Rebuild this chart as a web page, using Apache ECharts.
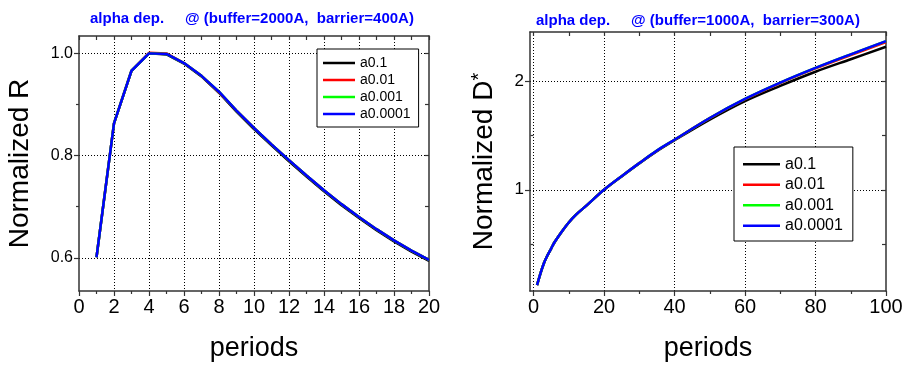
<!DOCTYPE html>
<html>
<head>
<meta charset="utf-8">
<script src="https://cdn.jsdelivr.net/npm/echarts@6/dist/echarts.min.js"></script>
<style>
  html, body { margin: 0; padding: 0; background: #fff; }
  #chart { width: 906px; height: 367px; }
</style>
</head>
<body>
<div id="chart"></div>
<script>
// Series names and colours shared by both panels
const seriesNames = ['a0.1', 'a0.01', 'a0.001', 'a0.0001'];
const seriesColors = ['#000000', '#ff0000', '#00ff00', '#0000ff'];

// Left panel: normalized R versus number of periods
const periodsR = [1, 2, 3, 4, 5, 6, 7, 8, 9, 10, 11, 12, 13, 14, 15, 16, 17, 18, 19, 20];
const rA01    = [0.601, 0.863, 0.966, 1.000, 0.998, 0.980, 0.955, 0.923, 0.886, 0.852, 0.820, 0.789, 0.759, 0.730, 0.703, 0.678, 0.654, 0.632, 0.612, 0.594];
const rA001   = [0.601, 0.863, 0.966, 1.001, 1.000, 0.981, 0.956, 0.924, 0.888, 0.854, 0.822, 0.791, 0.761, 0.732, 0.705, 0.680, 0.656, 0.634, 0.614, 0.596];
const rA0001  = [0.601, 0.863, 0.966, 1.000, 0.999, 0.981, 0.956, 0.925, 0.888, 0.854, 0.822, 0.791, 0.761, 0.732, 0.705, 0.680, 0.656, 0.634, 0.614, 0.596];
const rA00001 = [0.601, 0.863, 0.966, 1.000, 0.999, 0.981, 0.956, 0.925, 0.888, 0.854, 0.822, 0.791, 0.761, 0.732, 0.705, 0.680, 0.656, 0.634, 0.614, 0.596];

// Right panel: normalized D* versus number of periods
const periodsD = [1, 2, 3, 4, 5, 6, 8, 10, 12, 15, 20, 25, 30, 35, 40, 50, 60, 70, 80, 90, 100];
const dA01    = [0.124, 0.235, 0.330, 0.400, 0.460, 0.520, 0.615, 0.700, 0.770, 0.855, 1.000, 1.123, 1.242, 1.355, 1.455, 1.645, 1.815, 1.955, 2.085, 2.200, 2.314];
const dA001   = [0.124, 0.235, 0.330, 0.400, 0.460, 0.520, 0.615, 0.700, 0.770, 0.855, 1.000, 1.125, 1.245, 1.358, 1.460, 1.658, 1.832, 1.981, 2.115, 2.238, 2.357];
const dA0001  = [0.124, 0.235, 0.330, 0.400, 0.460, 0.520, 0.615, 0.700, 0.770, 0.855, 1.000, 1.125, 1.245, 1.360, 1.460, 1.660, 1.835, 1.985, 2.120, 2.245, 2.366];
const dA00001 = [0.124, 0.235, 0.330, 0.400, 0.460, 0.520, 0.615, 0.700, 0.770, 0.855, 1.000, 1.125, 1.245, 1.360, 1.460, 1.660, 1.835, 1.985, 2.120, 2.245, 2.366];

// Tick positions
const leftXMajor = [0, 2, 4, 6, 8, 10, 12, 14, 16, 18, 20];
const leftXMinor = [1, 3, 5, 7, 9, 11, 13, 15, 17, 19];
const leftXGrid  = [2, 4, 6, 8, 10, 12, 14, 16, 18];
const leftYMajor = [0.6, 0.8, 1.0];
const leftYMinor = [0.7, 0.9];
const rightXMajor = [0, 20, 40, 60, 80, 100];
const rightXMinor = [10, 30, 50, 70, 90];
const rightXGrid  = [0, 20, 40, 60, 80];
const rightYMajor = [1, 2];
const rightYMinor = [0.5, 1.5];

const FONT = '"Liberation Sans", Arial, Helvetica, sans-serif';
const frameLine = { color: '#333', width: 1.5 };
const gridLine = { color: '#000', width: 1, type: [1, 2] };

function pairs(xs, ys) { return xs.map((x, i) => [x, ys[i]]); }

// One panel frame: labelled axis with outward ticks, minor outward ticks,
// grid lines, and an opposite axis with inward ticks.
function buildAxes(dim, g, range, major, minor, gridVals, name, nameGap, labelSize, labelFmt, nameText) {
  const lowPos = dim === 'x' ? 'bottom' : 'left';
  const highPos = dim === 'x' ? 'top' : 'right';
  const base = { type: 'value', gridIndex: g, min: range[0], max: range[1], scale: true };
  return [
    Object.assign({}, base, {
      position: lowPos,
      name: name, nameLocation: 'middle', nameGap: nameGap,
      nameTextStyle: nameText,
      axisLine: { show: true, onZero: false, lineStyle: frameLine },
      axisTick: { show: true, inside: false, length: 5, customValues: major, lineStyle: { color: '#333', width: 1.2 } },
      axisLabel: { show: true, customValues: major, fontSize: labelSize, color: '#000', fontFamily: FONT, margin: 6, formatter: labelFmt },
      splitLine: { show: false }
    }),
    Object.assign({}, base, {
      position: lowPos,
      axisLine: { show: false },
      axisTick: { show: true, inside: false, length: 3, customValues: minor, lineStyle: { color: '#333', width: 1.2 } },
      axisLabel: { show: false },
      splitLine: { show: false }
    }),
    Object.assign({}, base, {
      position: highPos,
      axisLine: { show: true, onZero: false, lineStyle: frameLine },
      axisTick: { show: true, inside: true, length: 4, customValues: major.concat(minor), lineStyle: { color: '#333', width: 1.2 } },
      axisLabel: { show: false },
      splitLine: { show: false }
    }),
    Object.assign({}, base, {
      position: lowPos,
      axisLine: { show: false },
      axisTick: { show: false, customValues: gridVals },
      axisLabel: { show: false },
      splitLine: { show: true, lineStyle: gridLine }
    })
  ];
}

const nameStyle = { fontSize: 27, color: '#000', fontFamily: FONT };

const xAxes = []
  .concat(buildAxes('x', 0, [0, 20], leftXMajor, leftXMinor, leftXGrid, 'periods', 44, 20, null, nameStyle))
  .concat(buildAxes('x', 1, [-1, 100], rightXMajor, rightXMinor, rightXGrid, 'periods', 44, 20, null, nameStyle));

const yAxes = []
  .concat(buildAxes('y', 0, [0.535, 1.034], leftYMajor, leftYMinor, leftYMajor, 'Normalized R', 45, 16,
    v => v.toFixed(1), { fontSize: 28, color: '#000', fontFamily: FONT }))
  .concat(buildAxes('y', 1, [0.07, 2.45], rightYMajor, rightYMinor, rightYMajor,
    '{n|Normalized D}{s|*}', 31, 17, v => String(Math.round(v)),
    { color: '#000', fontFamily: FONT, rich: { n: { fontSize: 28, fontFamily: FONT, color: '#000' }, s: { fontSize: 20, fontFamily: FONT, color: '#000', verticalAlign: 'top', padding: [0, 0, 10, 0] } } }));

const rData = [rA01, rA001, rA0001, rA00001];
const dData = [dA01, dA001, dA0001, dA00001];

const series = [];
seriesNames.forEach((nm, i) => {
  series.push({
    name: nm, type: 'line', xAxisIndex: 0, yAxisIndex: 0,
    data: pairs(periodsR, rData[i]), symbol: 'none', z: 2 + i,
    color: seriesColors[i], lineStyle: { color: seriesColors[i], width: 2.5 }
  });
});
seriesNames.forEach((nm, i) => {
  series.push({
    name: nm, type: 'line', xAxisIndex: 4, yAxisIndex: 4,
    data: pairs(periodsD, dData[i]), symbol: 'none', smooth: 0.35, z: 2 + i,
    color: seriesColors[i], lineStyle: { color: seriesColors[i], width: 2.5 }
  });
});

const titleStyle = { fontSize: 15, fontWeight: 'bold', color: '#0000ff', fontFamily: FONT };

const option = {
  animation: false,
  backgroundColor: '#fff',
  title: [
    { text: 'alpha dep.     @ (buffer=2000A,  barrier=400A)', left: 85, top: 6, textStyle: titleStyle },
    { text: 'alpha dep.     @ (buffer=1000A,  barrier=300A)', left: 531, top: 8, textStyle: titleStyle }
  ],
  grid: [
    { left: 79, top: 36, width: 350, height: 257 },
    { left: 530, top: 32, width: 356, height: 260 }
  ],
  legend: [
    {
      data: seriesNames, orient: 'vertical', left: 317, top: 49,
      icon: 'rect', itemWidth: 32, itemHeight: 2.5, itemGap: 1,
      padding: [6, 8, 5, 6], borderColor: '#000', borderWidth: 1, backgroundColor: '#fff',
      textStyle: { fontSize: 14, fontFamily: FONT, color: '#000', lineHeight: 16 }
    },
    {
      data: seriesNames, orient: 'vertical', left: 734, top: 147,
      icon: 'rect', itemWidth: 37, itemHeight: 2.5, itemGap: 2,
      padding: [8, 10, 6, 9], borderColor: '#000', borderWidth: 1, backgroundColor: '#fff',
      textStyle: { fontSize: 16, fontFamily: FONT, color: '#000', lineHeight: 18.5 }
    }
  ],
  xAxis: xAxes,
  yAxis: yAxes,
  series: series
};

const chart = echarts.init(document.getElementById('chart'), null, { renderer: 'canvas' });
chart.setOption(option);
</script>
</body>
</html>
